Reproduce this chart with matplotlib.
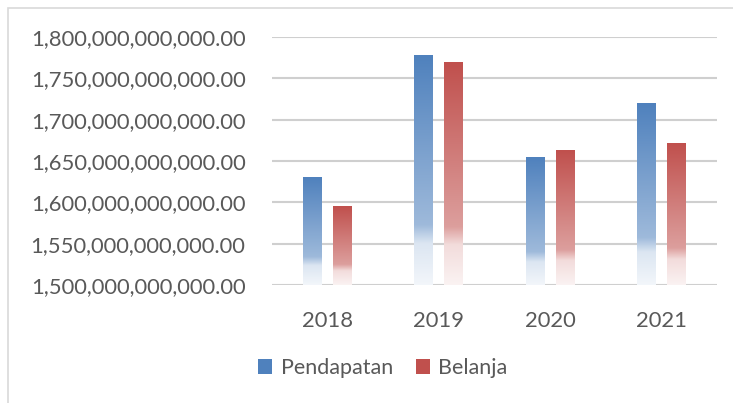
import matplotlib.pyplot as plt
import numpy as np
from matplotlib.colors import LinearSegmentedColormap, to_rgb
from matplotlib.patches import Rectangle, Patch
from matplotlib.ticker import FuncFormatter

plt.rcParams['font.family'] = ['Lato', 'DejaVu Sans']

years = ['2018', '2019', '2020', '2021']
pendapatan = [1.6306e12, 1.7780e12, 1.6548e12, 1.7200e12]
belanja = [1.5956e12, 1.7698e12, 1.6633e12, 1.6718e12]
series_names = ['Pendapatan', 'Belanja']
base_colors = ['#4F81BD', '#C0504D']
text_col = '#595959'


def fade_cmap(base):
    r, g, b = to_rgb(base)
    light = tuple(c + (1 - c) * 0.45 for c in (r, g, b))
    pale = tuple(c + (1 - c) * 0.80 for c in (r, g, b))
    white = tuple(c + (1 - c) * 0.93 for c in (r, g, b))
    return LinearSegmentedColormap.from_list(
        'fade', [(0.0, (r, g, b)), (0.74, light), (0.82, pale), (1.0, white)])


fig = plt.figure(figsize=(7.33, 4.03), dpi=100)
ax = fig.add_axes([0.371, 0.293, 0.607, 0.615])

# light frame round the chart area
fig.patches.append(Rectangle((8 / 733, -0.1), 1.2, (403 - 8) / 403 + 0.1,
                             transform=fig.transFigure, fill=False,
                             edgecolor='#D9D9D9', linewidth=1.2))

x = np.arange(len(years))
width = 0.17
offset = 0.135
grad = np.linspace(0, 1, 256).reshape(-1, 1)

for vals, off, col in zip([pendapatan, belanja], [-offset, offset], base_colors):
    bars = ax.bar(x + off, [v - 1.5e12 for v in vals], width, bottom=1.5e12,
                  facecolor='none', edgecolor='none', zorder=3)
    cmap = fade_cmap(col)
    for p in bars.patches:
        x0 = p.get_x()
        y0 = p.get_y()
        im = ax.imshow(grad, cmap=cmap, aspect='auto', zorder=3,
                       extent=[x0, x0 + p.get_width(), y0, y0 + p.get_height()],
                       origin='upper', interpolation='bilinear')
        im.set_clip_path(p)

ax.set_xlim(-0.5, len(years) - 0.5)
ax.set_ylim(1.5e12, 1.8e12)
ax.set_yticks(np.arange(1.5e12, 1.8e12 + 1, 0.05e12))
ax.yaxis.set_major_formatter(FuncFormatter(lambda v, pos: '{:,.2f}'.format(v)))
ax.set_xticks(x)
ax.set_xticklabels(years)

ax.grid(axis='y', color='#CFCFCF', linewidth=1.5, zorder=0)
ax.set_axisbelow(True)
for s in ax.spines.values():
    s.set_visible(False)
ax.tick_params(axis='both', length=0, colors=text_col, labelsize=15.8)
ax.tick_params(axis='y', pad=19)
ax.tick_params(axis='x', pad=19)

handles = [Patch(facecolor=c, label=n) for c, n in zip(base_colors, series_names)]
fig.legend(handles=handles, loc='center', bbox_to_anchor=(383 / 733, 1 - 368 / 403),
           ncol=2, frameon=False, fontsize=15.5, labelcolor=text_col,
           handlelength=0.65, handleheight=0.65, handletextpad=0.4, columnspacing=1.05)

fig.savefig('out.png', dpi=100)
